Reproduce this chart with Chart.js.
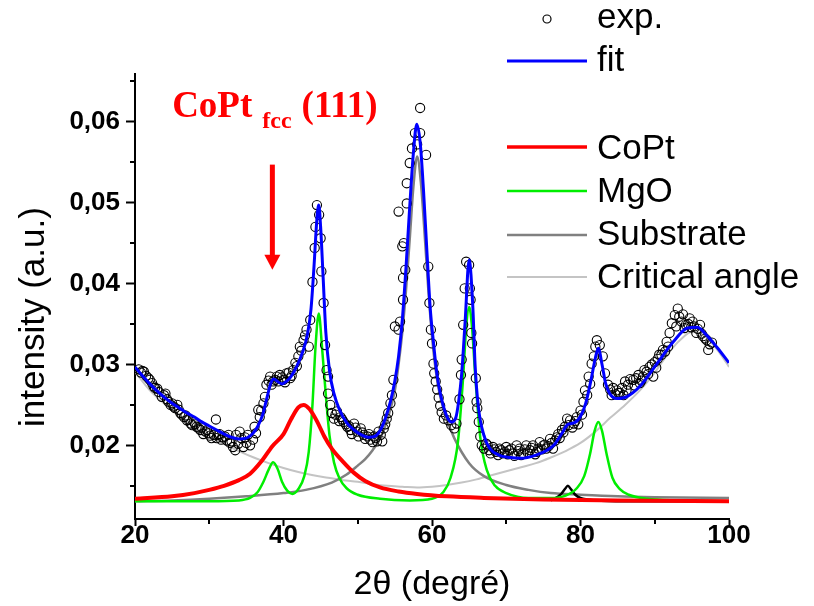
<!DOCTYPE html>
<html><head><meta charset="utf-8">
<script src="https://cdn.jsdelivr.net/npm/chart.js@4.4.1/dist/chart.umd.min.js"></script>
<style>html,body{margin:0;padding:0;background:#fff;}canvas{display:block;}</style>
</head><body>
<canvas id="c" width="814" height="606"></canvas>
<script>
// ---------- data ----------
const xTicks = [20, 40, 60, 80, 100];
const yTicks = [0.02, 0.03, 0.04, 0.05, 0.06];
const xMinorTicks = [30, 50, 70, 90];
const yMinorTicks = [0.015, 0.025, 0.035, 0.045, 0.055, 0.065];
const seriesLabels = ['exp.', 'fit', 'CoPt', 'MgO', 'Substrate', 'Critical angle'];
const xTitle = '2θ (degré)';
const yTitle = 'intensity (a.u.)';

const expX = [20.5,20.8,21.0,21.2,21.5,21.8,22.0,22.3,22.5,22.7,23.0,23.2,23.6,23.9,24.1,24.3,24.5,24.8,25.0,25.2,25.4,25.7,25.9,26.1,26.3,26.6,26.8,27.0,27.2,27.5,27.7,27.9,28.1,28.3,28.6,28.8,29.0,29.2,29.5,29.7,29.9,30.1,30.3,30.6,30.9,31.0,31.2,31.4,31.6,31.8,32.1,32.4,32.6,32.8,33.0,33.2,33.5,33.6,33.9,34.1,34.3,34.6,34.8,35.0,35.2,35.5,35.9,36.1,36.3,36.6,36.8,37.0,37.3,37.5,37.7,38.0,38.2,38.4,38.6,38.9,39.1,39.3,39.5,39.8,40.0,40.2,40.4,40.7,40.9,41.1,41.3,41.6,41.8,42.0,42.2,42.4,42.7,42.9,43.1,43.4,43.6,43.9,44.2,44.3,44.5,44.8,45.0,45.1,45.4,45.6,45.8,46.0,46.0,46.3,46.5,46.8,47.0,47.2,47.5,47.7,47.9,48.1,48.4,48.6,48.8,49.0,49.2,49.5,49.7,49.9,50.1,50.4,50.6,50.8,51.0,51.3,51.5,51.7,52.0,52.2,52.4,52.6,52.8,53.1,53.3,53.5,53.7,53.9,54.1,54.4,54.6,54.8,55.0,55.5,55.5,55.7,56.0,56.1,56.1,56.2,56.4,56.6,56.6,57.0,57.3,57.7,58.0,58.4,58.4,59.2,59.5,59.65,59.85,60.0,60.2,60.3,60.5,60.7,60.9,61.1,61.3,61.6,61.9,62.2,62.6,63.0,63.3,63.7,63.9,64.0,64.2,64.4,64.6,65.0,65.1,65.2,65.3,65.4,65.9,66.0,66.1,66.3,66.5,66.7,67.0,67.3,67.5,67.7,67.9,68.2,68.4,68.6,68.9,69.1,69.3,69.5,69.8,70.0,70.2,70.4,70.7,70.9,71.1,71.4,71.6,71.8,72.0,72.3,72.5,72.7,72.9,73.2,73.4,73.6,73.9,74.1,74.3,74.5,74.8,75.0,75.2,75.4,75.7,75.9,76.1,76.3,76.6,76.8,77.0,77.2,77.5,77.7,77.9,78.2,78.4,78.6,78.9,79.1,79.3,79.5,79.7,80.0,80.2,80.4,80.6,80.9,81.1,81.3,81.5,81.8,82.0,82.2,82.6,83.0,83.3,83.7,84.0,84.2,84.4,84.7,84.9,85.1,85.3,85.6,85.8,86.0,86.2,86.4,86.7,87.1,87.3,87.5,87.8,88.0,88.2,88.4,88.6,88.9,89.1,89.3,89.6,89.8,90.0,90.2,90.4,90.6,90.9,91.1,91.4,91.6,91.8,92.0,92.3,92.7,92.9,93.1,93.3,93.6,93.8,94.0,94.2,94.5,94.7,94.9,95.1,95.3,95.6,95.8,96.1,96.3,96.5,96.8,97.0,97.2,97.4,97.7];
const expY = [0.0294,0.0290,0.0292,0.0291,0.0286,0.0283,0.0281,0.0277,0.0273,0.0271,0.0270,0.0266,0.0260,0.0262,0.0264,0.0257,0.0254,0.0250,0.0252,0.0248,0.0246,0.0250,0.0244,0.0240,0.0238,0.0235,0.0237,0.0231,0.0232,0.0227,0.0225,0.0229,0.0226,0.0223,0.0221,0.0219,0.0222,0.0214,0.0217,0.0219,0.0215,0.0212,0.0209,0.0213,0.0232,0.0209,0.0213,0.0214,0.0207,0.0210,0.0211,0.0206,0.0213,0.0203,0.0205,0.0198,0.0194,0.0213,0.0202,0.0217,0.0209,0.0198,0.0210,0.0203,0.0213,0.0200,0.0207,0.0223,0.0215,0.0244,0.0235,0.0243,0.0252,0.0260,0.0275,0.0280,0.0285,0.0275,0.0279,0.0281,0.0285,0.0279,0.0287,0.0284,0.0281,0.0278,0.0289,0.0290,0.0283,0.0286,0.0293,0.0302,0.0298,0.0310,0.0322,0.0317,0.0330,0.0336,0.0343,0.0322,0.0355,0.0402,0.0444,0.0470,0.0497,0.0485,0.0456,0.0415,0.0376,0.0324,0.0293,0.0285,0.0264,0.0250,0.0240,0.0233,0.0238,0.0242,0.0230,0.0235,0.0232,0.0229,0.0226,0.0223,0.0224,0.0219,0.0214,0.0227,0.0222,0.0217,0.0211,0.0221,0.0216,0.0213,0.0208,0.0211,0.0214,0.0207,0.0204,0.0211,0.0209,0.0205,0.0217,0.0213,0.0205,0.0221,0.0226,0.0233,0.0240,0.0252,0.0262,0.0281,0.0347,0.0489,0.0343,0.0353,0.0446,0.0380,0.0407,0.0450,0.0417,0.0499,0.0524,0.0549,0.0567,0.0586,0.0572,0.0617,0.0586,0.0559,0.0421,0.0376,0.0343,0.0326,0.0301,0.0289,0.0279,0.0269,0.0259,0.0249,0.0241,0.0233,0.0237,0.0231,0.0225,0.0221,0.0227,0.0257,0.0287,0.0306,0.0349,0.0394,0.0427,0.0423,0.0394,0.0380,0.0339,0.0326,0.0283,0.0254,0.0246,0.0229,0.0211,0.0200,0.0196,0.0202,0.0200,0.0194,0.0190,0.0198,0.0195,0.0192,0.0188,0.0196,0.0194,0.0190,0.0192,0.0198,0.0189,0.0194,0.0196,0.0190,0.0187,0.0200,0.0193,0.0196,0.0188,0.0190,0.0195,0.0200,0.0191,0.0194,0.0197,0.0200,0.0189,0.0192,0.0196,0.0204,0.0195,0.0200,0.0201,0.0196,0.0199,0.0208,0.0203,0.0196,0.0206,0.0210,0.0214,0.0209,0.0219,0.0216,0.0223,0.0233,0.0225,0.0231,0.0222,0.0227,0.0230,0.0235,0.0226,0.0243,0.0238,0.0254,0.0268,0.0262,0.0285,0.0276,0.0301,0.0310,0.0322,0.0330,0.0324,0.0310,0.0289,0.0275,0.0269,0.0262,0.0271,0.0263,0.0268,0.0265,0.0265,0.0271,0.0262,0.0279,0.0268,0.0275,0.0282,0.0281,0.0274,0.0283,0.0287,0.0277,0.0280,0.0285,0.0293,0.0291,0.0288,0.0297,0.0300,0.0285,0.0303,0.0296,0.0307,0.0312,0.0312,0.0318,0.0316,0.0328,0.0322,0.0339,0.0351,0.0361,0.0347,0.0369,0.0359,0.0353,0.0362,0.0345,0.0349,0.0350,0.0357,0.0346,0.0353,0.0347,0.0339,0.0344,0.0349,0.0338,0.0335,0.0332,0.0330,0.0318,0.0325,0.0327];

const fitX = [20,21,22,23,24,25,26,27,28,29,30,31,32,33,34,35,35.8,36.5,37.2,37.8,38.3,38.7,39.2,39.8,40.4,41,41.8,42.6,43.2,43.7,44.1,44.5,44.75,45.0,45.3,45.7,46.2,46.8,47.5,48.5,49.5,50.5,51.5,52.3,53,53.7,54.4,55,55.5,56,56.5,57,57.5,57.95,58.4,58.85,59.3,59.75,60.2,60.65,61.1,61.9,62.6,63.2,63.6,64.0,64.45,65.0,65.5,65.8,66.25,67.0,67.8,69,70.5,72,74,75.5,76.5,77.5,78.3,79.2,80.0,80.7,81.4,82.0,82.4,82.9,83.4,84.0,84.9,86.2,88,90.3,92.5,94.4,95.7,97.0,98.4,100];
const fitY = [0.0297,0.0286,0.0276,0.0267,0.0259,0.0252,0.0246,0.0240,0.0235,0.0229,0.0224,0.0219,0.0214,0.0210,0.0208,0.0209,0.0214,0.0223,0.0238,0.0260,0.0277,0.0282,0.0279,0.0276,0.0279,0.0285,0.0298,0.0316,0.0336,0.0368,0.0420,0.0480,0.0497,0.0470,0.0415,0.0340,0.0292,0.0264,0.0245,0.0228,0.0219,0.0213,0.0210,0.0211,0.0218,0.0233,0.0254,0.0280,0.0310,0.0355,0.0420,0.0495,0.0562,0.0597,0.0575,0.0516,0.0442,0.0371,0.0327,0.0289,0.0265,0.0238,0.0229,0.0234,0.0255,0.0289,0.0351,0.0429,0.0371,0.0300,0.0247,0.0212,0.0196,0.0188,0.0185,0.0184,0.0188,0.0194,0.0201,0.0215,0.0226,0.0228,0.0236,0.0252,0.0280,0.0308,0.0320,0.0300,0.0276,0.0263,0.0258,0.0260,0.0273,0.0301,0.0328,0.0345,0.0346,0.0336,0.0321,0.0302];

const coptX = [20,25,28,30,32,34,35.5,37,38.5,40,41,42,42.7,43.5,44.5,45.5,46.5,48,49.5,51,53,55.5,58,62,67,75,85,100];
const coptY = [0.0134,0.0137,0.0141,0.0145,0.0150,0.0157,0.0165,0.0180,0.0199,0.0214,0.0232,0.0247,0.0250,0.0245,0.0230,0.0211,0.0196,0.0180,0.0166,0.0156,0.0148,0.0143,0.0140,0.0137,0.0135,0.0133,0.0132,0.0131];

const mgoX = [20,30,34,35.5,36.5,37.3,38,38.6,39.2,39.8,40.5,41.2,42,42.8,43.4,43.9,44.3,44.75,45.2,45.7,46.2,46.8,47.5,48.5,50,53,57,60,61.5,62.5,63.5,64.2,64.6,65.0,65.4,65.8,66.5,67.4,68.5,70,73,76,78,79.5,80.5,81.3,81.9,82.4,82.9,83.5,84.3,85.3,86.5,89,93,100];
const mgoY = [0.0131,0.0131,0.0132,0.0135,0.0142,0.0155,0.0170,0.0179,0.0171,0.0155,0.0144,0.0140,0.0146,0.0162,0.0192,0.0250,0.0320,0.0363,0.0320,0.0262,0.0212,0.0179,0.0160,0.0147,0.0139,0.0134,0.0132,0.0134,0.0142,0.0160,0.0205,0.0285,0.0345,0.0371,0.0345,0.0289,0.0210,0.0169,0.0150,0.0141,0.0135,0.0135,0.0138,0.0147,0.0162,0.0190,0.0218,0.0229,0.0218,0.0190,0.0160,0.0146,0.0139,0.0134,0.0132,0.0131];

const subX = [20,25,30,35,40,43,46.5,48.5,50,51,52,53,54,55,55.5,56,56.5,57,57.5,58,58.5,59,59.5,60,60.5,61,62,63,65,67,70,73,76,80,85,90,100];
const subY = [0.0131,0.0132,0.0134,0.0137,0.0141,0.0145,0.0154,0.0164,0.0175,0.0183,0.0194,0.0208,0.0232,0.0268,0.0300,0.0340,0.0392,0.0455,0.0520,0.0557,0.0525,0.0462,0.0393,0.0335,0.0293,0.0265,0.0232,0.0209,0.0178,0.0162,0.0151,0.0145,0.0141,0.0139,0.0137,0.0136,0.0135];

const critX = [20,21,22,23,24,26,28,30,32,34,36,38,40,42,44,46,48,50,52,54,56,58,60,62,64,66,68,70,72,74,76,78,80,82,84,86,88,90,92,93.5,95,96,97,98,99,100];
const critY = [0.0291,0.0279,0.0268,0.0259,0.0251,0.0236,0.0223,0.0212,0.0202,0.0193,0.0185,0.0178,0.0172,0.0167,0.0163,0.0160,0.0157,0.0155,0.0152,0.0150,0.0149,0.0148,0.0149,0.0151,0.0154,0.0158,0.0163,0.0168,0.0173,0.0178,0.0185,0.0193,0.0203,0.0217,0.0234,0.0250,0.0268,0.0290,0.0316,0.0331,0.0340,0.0339,0.0333,0.0323,0.0311,0.0297];

const blackX = [76,76.5,77.3,77.9,78.3,78.7,79.3,80,82,86,100];
const blackY = [0.0132,0.0134,0.0139,0.0146,0.0150,0.0146,0.0139,0.0135,0.0132,0.0131,0.0131];

// annotation anchor (data coordinates)
const noteX = 25.0, noteY = 0.0606;
const arrowX = 38.5, arrowTop = 0.0547, arrowTip = 0.0417;

// ---------- helpers ----------
const pts = (xs, ys) => xs.map((x, i) => ({x: x, y: ys[i]}));
const SANS = '"Liberation Sans", Arial, sans-serif';
const SERIF = '"Liberation Serif", "Times New Roman", serif';
const fmtY = v => (Math.round(v * 100) / 100).toFixed(2).replace('.', ',');

const lineDs = (label, xs, ys, color, w, order) => ({
  label, data: pts(xs, ys), borderColor: color, backgroundColor: color,
  borderWidth: w, pointRadius: 0, cubicInterpolationMode: 'monotone', fill: false, order
});

const datasets = [
  {label: seriesLabels[0], data: pts(expX, expY), showLine: false, pointRadius: 4.6,
   pointStyle: 'circle', pointBorderColor: '#000', pointBackgroundColor: 'rgba(255,255,255,0)',
   pointBorderWidth: 1.1, borderColor: '#000', order: 1},
  lineDs(seriesLabels[1], fitX, fitY, '#0000ff', 3, 0),
  lineDs(seriesLabels[2], coptX, coptY, '#ff0000', 4, 2),
  lineDs(seriesLabels[3], mgoX, mgoY, '#00ee00', 2.5, 3),
  lineDs(seriesLabels[4], subX, subY, '#808080', 2.5, 5),
  lineDs(seriesLabels[5], critX, critY, '#c4c4c4', 2, 6),
  lineDs('', blackX, blackY, '#000000', 2.5, 4)
];

// legend rows (layout)
const legendRows = [
  {ds: 0, y: 19, ty: 18},
  {ds: 1, y: 61, ty: 61},
  {ds: 2, y: 147, ty: 149},
  {ds: 3, y: 191, ty: 192},
  {ds: 4, y: 235, ty: 235.5},
  {ds: 5, y: 277, ty: 278.5}
];

const customPlugin = {
  id: 'custom',
  afterDraw(chart) {
    const {ctx, scales: {x, y}, chartArea} = chart;
    ctx.save();
    // minor ticks
    ctx.strokeStyle = '#000'; ctx.lineWidth = 2;
    xMinorTicks.forEach(v => {
      const px = Math.round(x.getPixelForValue(v));
      ctx.beginPath(); ctx.moveTo(px, chartArea.bottom); ctx.lineTo(px, chartArea.bottom + 5); ctx.stroke();
    });
    yMinorTicks.forEach(v => {
      const py = Math.round(y.getPixelForValue(v));
      ctx.beginPath(); ctx.moveTo(chartArea.left, py); ctx.lineTo(chartArea.left - 5, py); ctx.stroke();
    });
    // y axis title (drawn a little below the axis centre, as in the reference)
    ctx.save();
    ctx.translate(34, 317);
    ctx.rotate(-Math.PI / 2);
    ctx.font = '35px ' + SANS; ctx.textAlign = 'center'; ctx.textBaseline = 'middle'; ctx.fillStyle = '#000';
    ctx.fillText(yTitle, 0, 0);
    ctx.restore();
    // legend
    const lx0 = 507, lx1 = 587, tx = 597;
    ctx.font = '35px ' + SANS; ctx.textBaseline = 'middle'; ctx.textAlign = 'left'; ctx.fillStyle = '#000';
    legendRows.forEach(r => {
      const ds = chart.data.datasets[r.ds];
      if (r.ds === 0) {
        ctx.beginPath(); ctx.arc((lx0 + lx1) / 2, r.y, 4, 0, Math.PI * 2);
        ctx.lineWidth = 1.2; ctx.strokeStyle = '#000'; ctx.stroke();
      } else {
        ctx.beginPath(); ctx.moveTo(lx0, r.y); ctx.lineTo(lx1, r.y);
        ctx.lineWidth = Math.min(ds.borderWidth, 3.5); ctx.strokeStyle = ds.borderColor; ctx.stroke();
      }
      ctx.fillText(ds.label, tx, r.ty);
    });
    // annotation
    ctx.fillStyle = '#ff0000';
    ctx.textBaseline = 'alphabetic';
    let ax = x.getPixelForValue(noteX);
    const ay = y.getPixelForValue(noteY);
    ctx.font = 'bold 37px ' + SERIF;
    ctx.fillText('CoPt', ax, ay);
    ax += ctx.measureText('CoPt').width + 10;
    ctx.font = 'bold 24px ' + SERIF;
    ctx.fillText('fcc', ax, ay + 11.5);
    ax += ctx.measureText('fcc').width + 10;
    ctx.font = 'bold 37px ' + SERIF;
    ctx.fillText('(111)', ax, ay);
    // arrow
    const px = x.getPixelForValue(arrowX);
    const pTop = y.getPixelForValue(arrowTop), pTip = y.getPixelForValue(arrowTip);
    ctx.strokeStyle = '#ff0000'; ctx.lineWidth = 5;
    ctx.beginPath(); ctx.moveTo(px, pTop); ctx.lineTo(px, pTip - 12); ctx.stroke();
    ctx.beginPath(); ctx.moveTo(px - 8, pTip - 15); ctx.lineTo(px + 8, pTip - 15); ctx.lineTo(px, pTip); ctx.closePath(); ctx.fill();
    ctx.restore();
  }
};

new Chart(document.getElementById('c'), {
  type: 'line',
  data: {datasets},
  options: {
    responsive: false, animation: false, devicePixelRatio: 1,
    layout: {padding: {top: 74, right: 85, left: 0, bottom: 0}},
    plugins: {legend: {display: false}, tooltip: {enabled: false}},
    scales: {
      x: {
        type: 'linear', min: 20, max: 100,
        afterBuildTicks: s => { s.ticks = xTicks.map(v => ({value: v})); },
        afterFit: s => { s.height = 87; },
        grid: {drawOnChartArea: false, drawTicks: true, tickLength: 7, tickWidth: 2, tickColor: '#000'},
        border: {display: true, color: '#000', width: 2},
        ticks: {color: '#000', padding: -3, maxRotation: 0, autoSkip: false,
                font: {family: SANS, size: 26, weight: 'bold', lineHeight: 1},
                callback: v => String(v)},
        title: {display: true, text: xTitle, color: '#000',
                font: {family: SANS, size: 34, lineHeight: 1.2}, padding: {top: 0, bottom: 1}}
      },
      y: {
        type: 'linear', min: 0.0109, max: 0.0659,
        afterBuildTicks: s => { s.ticks = yTicks.map(v => ({value: v})); },
        afterFit: s => { s.width = 135; },
        grid: {drawOnChartArea: false, drawTicks: true, tickLength: 9, tickWidth: 2, tickColor: '#000'},
        border: {display: true, color: '#000', width: 2},
        ticks: {color: '#000', padding: 6, autoSkip: false,
                font: {family: SANS, size: 26, weight: 'bold'},
                callback: v => fmtY(v)},
        title: {display: false}
      }
    }
  },
  plugins: [customPlugin]
});
</script>
</body></html>
